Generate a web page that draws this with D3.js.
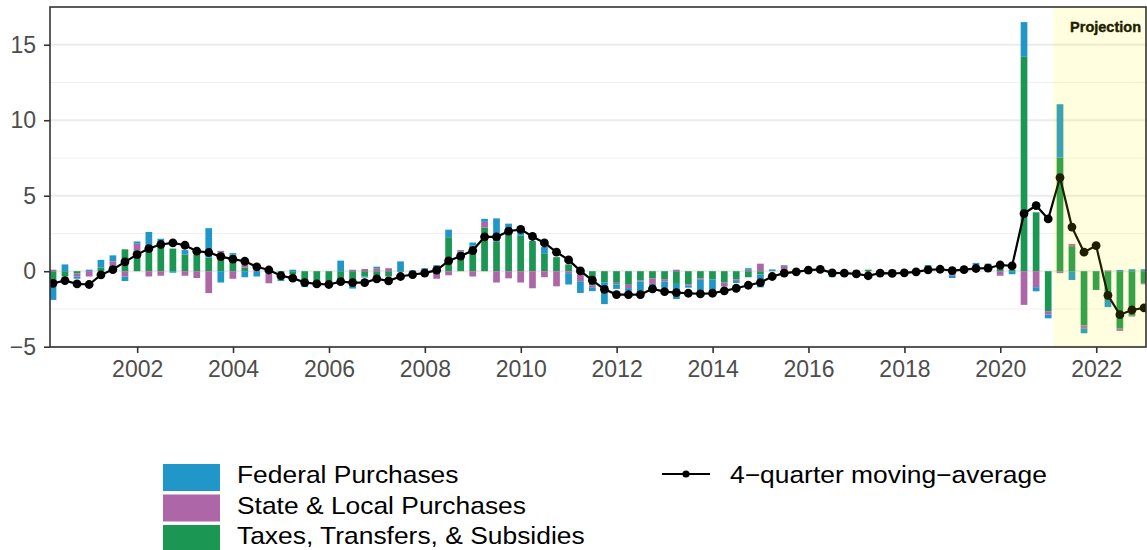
<!DOCTYPE html>
<html>
<head>
<meta charset="utf-8">
<script src="https://cdn.jsdelivr.net/npm/d3@7"></script>
<style>
  body { margin: 0; background: #fff; }
  text { font-family: "Liberation Sans", Arial, sans-serif; }
</style>
</head>
<body>
<div id="vis"></div>
<script>
const FRAME_HEIGHT = 550;
const FRAME_WIDTH = 1147;
const MARGINS = {left: 50, right: 1, top: 7, bottom: 203};

const VIS_HEIGHT = FRAME_HEIGHT - MARGINS.top - MARGINS.bottom;
const VIS_WIDTH = FRAME_WIDTH - MARGINS.left - MARGINS.right;

// quarters 2000 Q1 .. 2022 Q4
const FIRST_YEAR = 2000;
const N_QUARTERS = 92;
const QUARTERS = d3.range(N_QUARTERS).map(i => (FIRST_YEAR + Math.floor(i / 4)) + " Q" + (i % 4 + 1));

// contributions, percentage points
const FEDERAL = [
  -1.05, 0.45, -0.15, 0.1, 0.5, 0.4, -0.3, 0.15, 1.1, 0.2, -0.1, 0.3,
  0, 1.95, -0.75, 0.1, -0.4, -0.35, 0, -0.5, 0.1, -0.1, 0, 0,
  0.7, -0.45, -0.07, 0.1, 0, 0.65, 0.05, 0.2, 0.3, 0.5, 0, 0.2,
  0.2, 1.55, 0.45, 0.3, 0, 0.45, 0, -0.75, -0.77, -0.22, -1.45, -0.3,
  -0.18, -0.7, -0.27, -0.42, -1.0, -0.13, -0.9, -0.77, 0, -0.13, 0.1, -0.85,
  0.1, 0.05, 0.05, 0, 0.05, -0.25, 0, 0.05, 0, 0.05, 0.05, 0,
  0.1, 0.4, 0, -0.15, 0.05, 0.5, 0.45, 0.45, -0.2, 2.3, -0.27, -0.25,
  3.54, -0.58, -0.33, 0, -0.48, 0.08, 0.13, 0.13
];
const STATE_LOCAL = [
  0.1, 0, -0.2, -0.35, 0, 0.3, -0.35, 0.45, -0.35, -0.3, 0, -0.3,
  -0.45, -1.45, 0.1, -0.5, 0.2, 0, -0.8, 0, 0, 0, 0, 0,
  0, 0.1, 0.15, 0.2, 0.2, 0, 0, 0, -0.5, -0.27, 0.1, -0.35,
  0.37, -0.75, -0.47, -0.75, -1.13, -0.4, -1.0, -0.13, -0.47, -0.15, 0, -0.1,
  -0.22, -0.07, -0.37, -0.15, 0.1, -0.1, -0.1, 0, -0.27, -0.1, 0.1, 0.5,
  0, 0.35, 0.05, -0.1, 0, 0, 0, 0, 0, 0, 0.05, 0,
  0, 0, 0, -0.3, 0, 0, 0, -0.3, 0, -2.23, -1.06, -0.22,
  -0.13, 0.15, -0.18, 0, 0.05, -0.15, -0.05, -0.07
];
const TAXES = [
  -0.85, -0.35, -0.15, 0, 0.25, 0.35, 1.45, 1.37, 1.5, 1.95, 1.5, 1.1,
  1.1, 0.9, 1.25, 1.1, 0.25, 0.05, 0.05, -0.15, -0.2, -0.95, -0.95, -0.9,
  -0.7, -0.7, -0.35, -0.35, -0.35, -0.05, -0.05, 0, 0.1, 2.25, 1.3, 1.7,
  2.9, 1.95, 2.7, 2.35, 2.0, 1.15, 0.93, 0.45, -0.2, -0.95, -0.73, -0.77,
  -0.9, -0.62, -0.47, -0.53, -0.84, -0.86, -0.47, -0.55, -0.75, -0.55, -0.4, -0.22,
  0.02, 0, -0.05, 0.05, 0.05, -0.15, -0.05, -0.05, 0.1, -0.05, 0, 0.05,
  0, 0, 0.05, 0, 0.05, 0.05, 0.05, 0.15, 0.1, 14.2, 3.9, -2.65,
  7.52, 1.66, -3.6, -1.24, -1.9, -3.8, -2.95, -0.8
];
const MOVING_AVG = [
  -0.8, -0.62, -0.84, -0.88, -0.24, 0.11, 0.62, 1.1, 1.5, 1.77, 1.88, 1.72,
  1.33, 1.24, 0.97, 0.8, 0.66, 0.29, 0.08, -0.3, -0.46, -0.75, -0.84, -0.88,
  -0.69, -0.75, -0.75, -0.51, -0.64, -0.35, -0.22, -0.13, 0.07, 0.68, 1.0, 1.37,
  2.28, 2.28, 2.65, 2.77, 2.3, 1.87, 1.26, 0.75, 0.02, -0.6, -1.2, -1.55,
  -1.55, -1.55, -1.17, -1.35, -1.42, -1.46, -1.5, -1.46, -1.3, -1.13, -0.93, -0.75,
  -0.35, -0.13, -0.04, 0.07, 0.12, -0.11, -0.13, -0.18, -0.3, -0.13, -0.15, -0.11,
  -0.04, 0.09, 0.13, 0.04, 0.11, 0.18, 0.2, 0.41, 0.35, 3.82, 4.35, 3.46,
  6.2, 2.92, 1.26, 1.7, -1.6, -2.88, -2.57, -2.43
];

const SERIES = ["Federal Purchases", "State & Local Purchases", "Taxes, Transfers, & Subsidies"];
const COLORS = ["#2196c9", "#ad67a9", "#1c9653"];
const LINE_LABEL = "4\u2212quarter moving\u2212average";

const Y_TICKS = [-5, 0, 5, 10, 15];
const Y_MINOR = [-2.5, 2.5, 7.5, 12.5];
const X_TICK_YEARS = [2002, 2004, 2006, 2008, 2010, 2012, 2014, 2016, 2018, 2020, 2022];
const PROJECTION_START = new Date(2021, 1, 9);
const PROJECTION_LABEL = "Projection";

const BAR_W = 6.7;

// quarter-end dates
const qDate = (i) => new Date(FIRST_YEAR + Math.floor(i / 4), (i % 4 + 1) * 3, 0);

const data = QUARTERS.map((q, i) => ({
  date: qDate(i),
  fed: FEDERAL[i],
  sl: STATE_LOCAL[i],
  tax: TAXES[i],
  ma: MOVING_AVG[i]
}));

const X_SCALE = d3.scaleTime()
                  .domain([new Date(2000, 2, 8), new Date(2023, 0, 15)])
                  .range([0, VIS_WIDTH]);

const Y_SCALE = d3.scaleLinear()
                  .domain([-5.02, 17.5])
                  .range([VIS_HEIGHT, 0]);

const SVG = d3.select("#vis")
              .append("svg")
                .attr("width", FRAME_WIDTH)
                .attr("height", FRAME_HEIGHT);

SVG.append("defs").append("clipPath")
    .attr("id", "panel")
  .append("rect")
    .attr("width", VIS_WIDTH)
    .attr("height", VIS_HEIGHT);

const G = SVG.append("g")
             .attr("transform", "translate(" + MARGINS.left + "," + MARGINS.top + ")");

// grid
G.selectAll(".minor")
  .data(Y_MINOR)
  .enter()
  .append("line")
    .attr("x1", 0).attr("x2", VIS_WIDTH)
    .attr("y1", d => Y_SCALE(d)).attr("y2", d => Y_SCALE(d))
    .attr("stroke", "#f0f0f0")
    .attr("stroke-width", 1);

G.selectAll(".major")
  .data(Y_TICKS)
  .enter()
  .append("line")
    .attr("x1", 0).attr("x2", VIS_WIDTH)
    .attr("y1", d => Y_SCALE(d)).attr("y2", d => Y_SCALE(d))
    .attr("stroke", "#ebebeb")
    .attr("stroke-width", 2);

const PLOT = G.append("g").attr("clip-path", "url(#panel)");

// stacked bars, taxes nearest zero, federal outermost
const stack = d3.stack()
                .keys(["tax", "sl", "fed"])
                .offset(d3.stackOffsetDiverging);
const layers = stack(data);
const colorOf = {fed: COLORS[0], sl: COLORS[1], tax: COLORS[2]};

PLOT.selectAll(".layer")
  .data(layers)
  .enter()
  .append("g")
    .attr("fill", d => colorOf[d.key])
  .selectAll("rect")
  .data(d => d)
  .enter()
  .append("rect")
    .attr("x", d => X_SCALE(d.data.date) - BAR_W / 2)
    .attr("y", d => Y_SCALE(Math.max(d[0], d[1])))
    .attr("width", BAR_W)
    .attr("height", d => Math.abs(Y_SCALE(d[0]) - Y_SCALE(d[1])));

// moving average
const line = d3.line()
               .x(d => X_SCALE(d.date))
               .y(d => Y_SCALE(d.ma));

PLOT.append("path")
    .datum(data)
    .attr("d", line)
    .attr("fill", "none")
    .attr("stroke", "#000")
    .attr("stroke-width", 2.2);

PLOT.selectAll(".pt")
  .data(data)
  .enter()
  .append("circle")
    .attr("cx", d => X_SCALE(d.date))
    .attr("cy", d => Y_SCALE(d.ma))
    .attr("r", 4.4)
    .attr("fill", "#000");

// projection shading
G.append("text")
    .attr("x", VIS_WIDTH - 5)
    .attr("y", 25)
    .attr("text-anchor", "end")
    .attr("font-size", "14.5px")
    .attr("font-weight", "bold")
    .attr("fill", "#000")
    .attr("stroke", "#000")
    .attr("stroke-width", 0.4)
    .text(PROJECTION_LABEL);

G.append("rect")
    .attr("x", X_SCALE(PROJECTION_START))
    .attr("y", 0)
    .attr("width", VIS_WIDTH - X_SCALE(PROJECTION_START))
    .attr("height", VIS_HEIGHT)
    .attr("fill", "#ffff00")
    .attr("fill-opacity", 0.12);

// panel border
G.append("rect")
    .attr("width", VIS_WIDTH)
    .attr("height", VIS_HEIGHT)
    .attr("fill", "none")
    .attr("stroke", "#333")
    .attr("stroke-width", 1.6);

// axes
const xAxis = G.append("g")
    .attr("transform", "translate(0," + VIS_HEIGHT + ")")
    .call(d3.axisBottom(X_SCALE)
            .tickValues(X_TICK_YEARS.map(y => new Date(y, 0, 1)))
            .tickFormat(d3.timeFormat("%Y"))
            .tickSize(6).tickPadding(8).tickSizeOuter(0));

const yAxis = G.append("g")
    .call(d3.axisLeft(Y_SCALE)
            .tickValues(Y_TICKS)
            .tickFormat(d => d < 0 ? "\u2212" + Math.abs(d) : d)
            .tickSize(6).tickPadding(8).tickSizeOuter(0));

[xAxis, yAxis].forEach(a => {
  a.select(".domain").remove();
  a.selectAll(".tick line").attr("stroke", "#333").attr("stroke-width", 1.6);
  a.selectAll(".tick text")
    .attr("fill", "#4d4d4d")
    .attr("font-size", "23px")
    .attr("font-family", "'Liberation Sans', Arial, sans-serif");
});

// legend
const LEG = SVG.append("g").attr("transform", "translate(163,464)");

const legItems = LEG.selectAll(".item")
  .data(SERIES)
  .enter()
  .append("g")
    .attr("transform", (d, i) => "translate(0," + (i * 30.5) + ")");

legItems.append("rect")
    .attr("width", 57)
    .attr("height", 27)
    .attr("fill", (d, i) => COLORS[i]);

legItems.append("text")
    .attr("transform", "translate(74,19) scale(1.1,1)")
    .attr("font-size", "24px")
    .attr("fill", "#000")
    .text(d => d);

const LEG2 = SVG.append("g").attr("transform", "translate(662,474)");

LEG2.append("line")
    .attr("x1", 0).attr("x2", 48)
    .attr("stroke", "#000")
    .attr("stroke-width", 2.2);

LEG2.append("circle")
    .attr("cx", 24)
    .attr("r", 3.6)
    .attr("fill", "#000");

LEG2.append("text")
    .attr("transform", "translate(68,8.5) scale(1.1,1)")
    .attr("font-size", "24px")
    .attr("fill", "#000")
    .text(LINE_LABEL);
</script>
</body>
</html>
